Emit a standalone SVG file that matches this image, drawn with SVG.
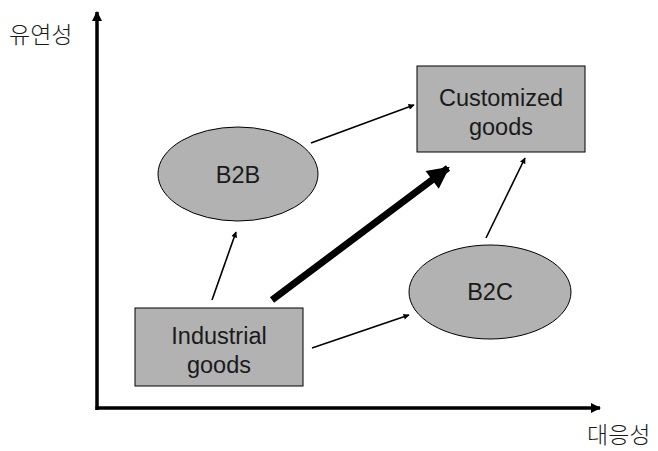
<svg xmlns="http://www.w3.org/2000/svg" width="658" height="451" viewBox="0 0 658 451">
<style>
.node{fill:#b2b2b2;stroke:#000;stroke-width:1}
.t{font-family:"Liberation Sans",Arial,sans-serif;font-size:23.5px;fill:#1a1a1a;text-anchor:middle}
.k{font-family:"Noto Sans CJK KR","Noto Sans",sans-serif;font-size:23px;fill:#1a1a1a;font-weight:300}
.c{stroke:#000;stroke-width:1.6;fill:none}
</style>
<defs>
<marker id="ah" viewBox="0 0 10 10" refX="9" refY="5" markerWidth="7" markerHeight="6" orient="auto" markerUnits="userSpaceOnUse"><path d="M0,0L10,5L0,10z" fill="#000"/></marker>
<marker id="ahb" viewBox="0 0 10 10" refX="9" refY="5" markerWidth="24" markerHeight="22" orient="auto" markerUnits="userSpaceOnUse"><path d="M0,0L10,5L0,10z" fill="#000"/></marker>
<marker id="aha" viewBox="0 0 10 10" refX="9" refY="5" markerWidth="10" markerHeight="12" orient="auto" markerUnits="userSpaceOnUse"><path d="M0,0L10,5L0,10z" fill="#000"/></marker>
</defs>
<g id="axes">
<line x1="97" y1="410" x2="97" y2="12" stroke="#000" stroke-width="3.5" marker-end="url(#aha)"/>
<line x1="95.5" y1="408" x2="600" y2="408" stroke="#000" stroke-width="3.5" marker-end="url(#aha)"/>
</g>
<text class="k" x="9" y="43">유연성</text>
<text class="k" x="587" y="443">대응성</text>
<g id="customized">
<rect class="node" x="417" y="66" width="168" height="86"/>
<text class="t" x="501" y="106">Customized</text>
<text class="t" x="501" y="135">goods</text>
</g>
<g id="b2b">
<ellipse class="node" cx="238" cy="174" rx="80" ry="47"/>
<text class="t" x="238" y="183">B2B</text>
</g>
<g id="b2c">
<ellipse class="node" cx="490" cy="292" rx="81" ry="47"/>
<text class="t" x="490" y="300">B2C</text>
</g>
<g id="industrial">
<rect class="node" x="135" y="308" width="168" height="78"/>
<text class="t" x="219" y="344">Industrial</text>
<text class="t" x="219" y="373">goods</text>
</g>
<g id="connectors">
<line class="c" x1="311" y1="143" x2="414" y2="105" marker-end="url(#ah)"/>
<line class="c" x1="212" y1="300" x2="236" y2="232" marker-end="url(#ah)"/>
<line class="c" x1="312" y1="348" x2="409" y2="315" marker-end="url(#ah)"/>
<line class="c" x1="486" y1="238" x2="525" y2="158" marker-end="url(#ah)"/>
<line x1="272" y1="300" x2="448" y2="168" stroke="#000" stroke-width="7" marker-end="url(#ahb)"/>
</g>
</svg>
